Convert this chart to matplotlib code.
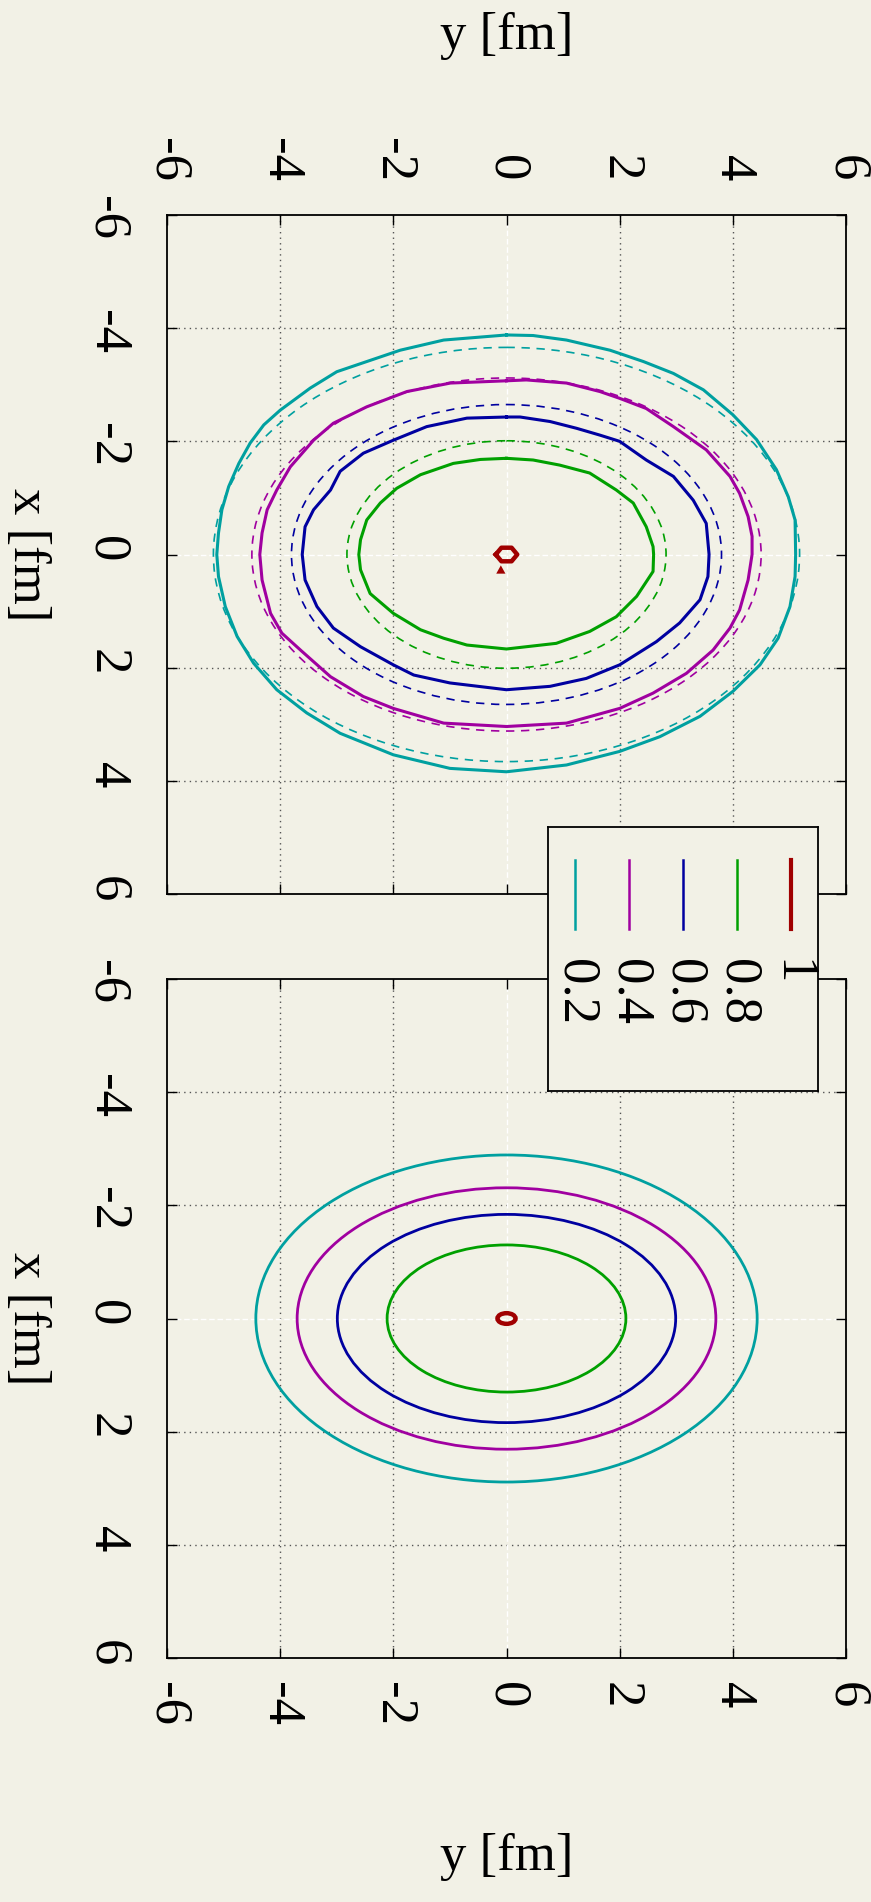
import matplotlib
matplotlib.use('Agg')
import matplotlib.pyplot as plt
from matplotlib.patches import Ellipse

plt.rcParams['font.family'] = ['Liberation Serif', 'DejaVu Serif']

BG = '#f2f1e6'
levels = ['1', '0.8', '0.6', '0.4', '0.2']
colors = ['#a00000', '#00a000', '#0000a0', '#a000a0', '#00a0a0']
ticks = [-6, -4, -2, 0, 2, 4, 6]
tick_labels = ['-6', '-4', '-2', '0', '2', '4', '6']

# ---- top panel: solid contours, points (y, x) ----
top_red_y = [-0.19, -0.09, 0.09, 0.19, 0.09, -0.09, -0.19]
top_red_x = [0.0, -0.12, -0.12, 0.0, 0.12, 0.12, 0.0]
top_red_tri_y = [-0.10, -0.15, -0.05, -0.10]
top_red_tri_x = [0.23, 0.32, 0.32, 0.23]

top_08_y = [0, -0.46, -0.94, -1.52, -1.94, -2.23, -2.47, -2.58, -2.61,
            -2.58, -2.41, -2.0, -1.52, -1.11, -0.7, 0,
            0.35, 0.88, 1.47, 1.94, 2.3, 2.59, 2.6,
            2.59, 2.47, 2.24, 1.94, 1.47, 0.94, 0.47, 0]
top_08_x = [-1.70, -1.68, -1.61, -1.41, -1.17, -0.91, -0.61, -0.26, 0,
            0.27, 0.69, 1.04, 1.33, 1.48, 1.6, 1.67,
            1.63, 1.57, 1.36, 1.1, 0.74, 0.3, 0,
            -0.14, -0.49, -0.91, -1.14, -1.44, -1.58, -1.67, -1.70]

top_06_y = [0, -0.70, -1.41, -2.0, -2.53, -2.94, -3.11, -3.41, -3.56, -3.61,
            -3.56, -3.35, -3.06, -2.58, -2.0, -1.64, -1.0, 0,
            0.77, 1.41, 2.0, 2.65, 3.06, 3.42, 3.56, 3.58,
            3.53, 3.3, 2.95, 2.47, 2.0, 1.65, 1.24, 0.77, 0.24, 0]
top_06_x = [-2.43, -2.41, -2.26, -2.02, -1.79, -1.47, -1.14, -0.79, -0.49, 0,
            0.45, 0.92, 1.3, 1.63, 1.95, 2.13, 2.27, 2.39,
            2.33, 2.19, 1.95, 1.54, 1.21, 0.8, 0.39, 0,
            -0.55, -0.96, -1.38, -1.67, -2.0, -2.11, -2.23, -2.35, -2.43, -2.43]

top_04_y = [0, -0.99, -1.76, -2.47, -3.06, -3.41, -3.82, -4.06, -4.23, -4.32, -4.36,
            -4.32, -4.17, -3.97, -3.64, -3.11, -2.53, -2.0, -1.11, 0,
            1.06, 2.0, 2.59, 3.18, 3.65, 3.95, 4.12, 4.27, 4.34,
            4.34, 4.27, 4.12, 3.95, 3.53, 2.95, 2.47, 2.0, 1.65, 1.06, 0.35, 0]
top_04_x = [-3.07, -3.03, -2.88, -2.61, -2.32, -2.02, -1.55, -1.14, -0.79, -0.38, 0,
            0.45, 1.04, 1.39, 1.69, 2.16, 2.51, 2.72, 2.98, 3.04,
            2.98, 2.72, 2.45, 2.1, 1.69, 1.3, 0.98, 0.45, 0,
            -0.32, -0.67, -1.08, -1.38, -1.85, -2.26, -2.58, -2.76, -2.88, -3.03, -3.085, -3.07]

top_02_y = [0, -1.11, -1.88, -2.47, -3.0, -3.47, -4.0, -4.29, -4.53, -4.73, -4.91, -5.03, -5.09, -5.12,
            -5.09, -4.97, -4.76, -4.47, -4.06, -3.53, -2.94, -2.0, -1.0, 0,
            1.06, 2.0, 2.71, 3.42, 4.0, 4.48, 4.8, 5.01, 5.1, 5.11,
            5.1, 4.98, 4.77, 4.42, 4.0, 3.48, 2.95, 2.42, 1.83, 1.06, 0.47, 0]
top_02_x = [-3.88, -3.79, -3.61, -3.41, -3.23, -2.94, -2.55, -2.29, -1.97, -1.61, -1.2, -0.79, -0.38, 0,
            0.39, 0.92, 1.45, 1.92, 2.39, 2.8, 3.16, 3.54, 3.78, 3.84,
            3.72, 3.48, 3.22, 2.86, 2.42, 1.95, 1.48, 0.92, 0.39, 0,
            -0.61, -1.02, -1.5, -2.03, -2.47, -2.91, -3.2, -3.41, -3.61, -3.79, -3.87, -3.88]

# ---- top panel: dashed contours, semi-axes (levels 0.8 .. 0.2) ----
dash_levels = ['0.8', '0.6', '0.4', '0.2']
dash_semi_y = [2.82, 3.80, 4.50, 5.18]
dash_semi_x = [2.01, 2.65, 3.12, 3.66]

# ---- bottom panel: contours, semi-axes (levels 1 .. 0.2) ----
bot_semi_y = [0.16, 2.11, 2.99, 3.70, 4.43]
bot_semi_x = [0.094, 1.30, 1.84, 2.31, 2.89]

W, H = 871, 1902
fig = plt.figure(figsize=(W / 100, H / 100), dpi=100, facecolor=BG)

L, R = 167, 846
top_t, top_b = 215, 894
bot_t, bot_b = 979, 1658


def make_ax(t, b):
    return fig.add_axes([L / W, 1 - b / H, (R - L) / W, (b - t) / H], facecolor=BG)


FS = 38
LW = 2.2


def style(ax, top_labels):
    ax.set_xlim(-6, 6)
    ax.set_ylim(6, -6)
    ax.set_xticks(ticks, tick_labels, rotation=-90)
    ax.set_yticks(ticks, tick_labels, rotation=-90)
    ax.tick_params(direction='in', length=7, width=1, top=True, right=True,
                   bottom=True, left=True, labelsize=FS, pad=24)
    ax.tick_params(axis='y', pad=26)
    if top_labels:
        ax.tick_params(axis='x', labeltop=True, labelbottom=False)
    else:
        ax.tick_params(axis='x', labeltop=False, labelbottom=True, pad=17)
    for s in ax.spines.values():
        s.set_linewidth(1.3)
    for v in [-4, -2, 2, 4]:
        ax.axvline(v, color='#555555', lw=1.0, ls=(0, (1, 3)), zorder=1)
        ax.axhline(v, color='#555555', lw=1.0, ls=(0, (1, 3)), zorder=1)
    ax.axvline(0, color='white', lw=1.0, ls=(0, (4, 2)), zorder=1)
    ax.axhline(0, color='white', lw=1.0, ls=(0, (4, 2)), zorder=1)


ax1 = make_ax(top_t, top_b)
style(ax1, True)
ax1.xaxis.set_label_position('top')
ax1.set_xlabel('y [fm]', fontsize=FS, va='center')
ax1.xaxis.set_label_coords(0.5, (top_b - 36) / (top_b - top_t))
ax1.set_ylabel('x [fm]', fontsize=FS, rotation=-90, va='center', ha='center')
ax1.yaxis.set_label_coords((27 - L) / (R - L), 0.5)

# dashed ellipses
for i, lv in enumerate(dash_levels):
    c = colors[levels.index(lv)]
    ax1.add_patch(Ellipse((0, 0), 2 * dash_semi_y[i], 2 * dash_semi_x[i], fill=False,
                          edgecolor=c, lw=1.2, ls=(0, (5, 4)), zorder=3))
solid_y = [top_08_y, top_06_y, top_04_y, top_02_y]
solid_x = [top_08_x, top_06_x, top_04_x, top_02_x]
for i in range(4):
    ax1.plot(solid_y[i], solid_x[i], color=colors[i + 1], lw=LW, zorder=4,
             solid_joinstyle='round')
ax1.plot(top_red_y, top_red_x, color=colors[0], lw=3.2, zorder=5)
ax1.fill(top_red_tri_y, top_red_tri_x, color=colors[0], lw=1.5, zorder=5)

ax2 = make_ax(bot_t, bot_b)
style(ax2, False)
ax2.set_xlabel('y [fm]', fontsize=FS, va='center')
ax2.xaxis.set_label_coords(0.5, -(1857 - bot_b) / (bot_b - bot_t))
ax2.set_ylabel('x [fm]', fontsize=FS, rotation=-90, va='center', ha='center')
ax2.yaxis.set_label_coords((27 - L) / (R - L), 0.5)
for i in range(5):
    ax2.add_patch(Ellipse((0, 0), 2 * bot_semi_y[i], 2 * bot_semi_x[i], fill=False,
                          edgecolor=colors[i], lw=3.2 if i == 0 else 2.0, zorder=4))

# legend box (rotated layout)
lg_l, lg_r, lg_t, lg_b = 548, 818, 827, 1091
axl = fig.add_axes([lg_l / W, 1 - lg_b / H, (lg_r - lg_l) / W, (lg_b - lg_t) / H],
                   facecolor=BG, zorder=10)
axl.set_xlim(0, lg_r - lg_l)
axl.set_ylim(lg_b - lg_t, 0)
axl.set_xticks([])
axl.set_yticks([])
for s in axl.spines.values():
    s.set_linewidth(1.3)
leg_x = [243, 189, 135, 81, 27]
for i, lv in enumerate(levels):
    axl.plot([leg_x[i], leg_x[i]], [33, 102], color=colors[i], lw=3.0 if i == 0 else 1.8)
    axl.text(leg_x[i], 132, lv, rotation=-90, ha='center', va='top', fontsize=FS)

fig.savefig('out.png', dpi=100, facecolor=BG)
